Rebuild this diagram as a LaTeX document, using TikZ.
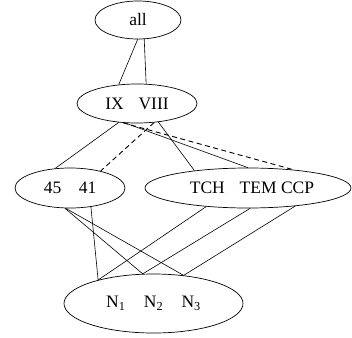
\documentclass[tikz,border=0pt]{standalone}
\usepackage{fontspec}
\setmainfont{Liberation Serif}
\usetikzlibrary{shapes.geometric}
\begin{document}
\begin{tikzpicture}[x=1pt,y=-1pt,
  ell/.style={draw, ellipse, inner sep=0pt, line width=0.7pt,
    font=\fontsize{17.5}{20}\selectfont},
  conn/.style={line width=0.6pt},
  dconn/.style={line width=0.9pt, dash pattern=on 5pt off 3.5pt}]
\useasboundingbox (0,0) rectangle (352,337);
\node[ell, minimum width=86pt, minimum height=38pt] (all) at (138,20) {all};
\node[ell, minimum width=120pt, minimum height=39pt] (ix) at (137,103.5) {IX\hspace{0.85em}VIII};
\node[ell, minimum width=110pt, minimum height=40pt] (a45) at (70,188) {45\hspace{1em}41};
\node[ell, minimum width=206pt, minimum height=40pt] (tch) at (248,188) {\hspace{8pt}TCH\hspace{0.85em}TEM CCP};
\node[ell, minimum width=179pt, minimum height=59pt] (n) at (153.5,303.5) {N\textsubscript{1}\hspace{1.05em}N\textsubscript{2}\hspace{1.05em}N\textsubscript{3}};
% top
\draw[conn] (all.-91) -- (ix.134);
\draw[conn] (all.-72.5) -- (ix.65);
% middle
\draw[conn] (ix.-134) -- (a45.127);
\draw[dconn] (ix.-48.7) -- (a45.29.5);
\draw[conn] (ix.-41.6) -- (tch.162);
\draw[conn] (ix.-122.4) -- (tch.90);
\draw[dconn] (ix.-126.9) -- (tch.22.9);
% bottom
\draw[conn] (a45.-104) -- (n.110.2);
\draw[conn] (a45.-102) -- (n.43);
\draw[conn] (a45.-42) -- (n.157.6);
\draw[conn] (tch.-156.2) -- (n.157.6);
\draw[conn] (tch.-84) -- (n.110.2);
\draw[conn] (tch.-21.8) -- (n.43);
\end{tikzpicture}
\end{document}
